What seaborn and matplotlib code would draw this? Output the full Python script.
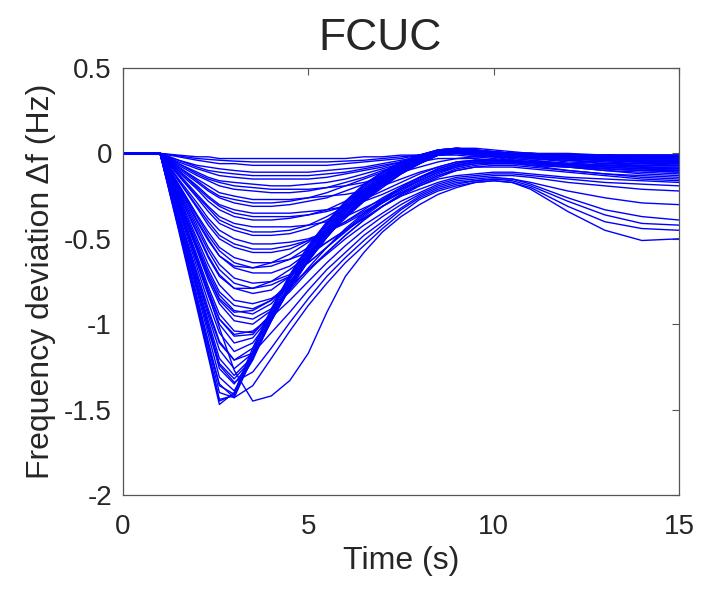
import numpy as np
import pandas as pd
import matplotlib
matplotlib.use("Agg")
import matplotlib.pyplot as plt
import seaborn as sns

# sample times (s) shared by every trace
t = [0, 1, 1.5, 2, 2.3, 2.6, 3, 3.5, 4, 4.5, 5, 5.5, 6, 6.5, 7, 7.5, 8,
     8.5, 9, 9.5, 10, 10.5, 11, 12, 13, 14, 15]

# deep dips, fast recovery
deep = [
    [0, 0, -0.45, -0.91, -1.19, -1.47, -1.40, -1.14, -0.91, -0.71, -0.54, -0.40, -0.28, -0.18, -0.11, -0.05, -0.01,
     0.02, 0.03, 0.02, 0.01, 0.00, 0.00, -0.01, -0.01, -0.02, -0.02],
    [0, 0, -0.44, -0.89, -1.17, -1.45, -1.41, -1.16, -0.92, -0.72, -0.55, -0.41, -0.29, -0.19, -0.11, -0.05, -0.01,
     0.02, 0.03, 0.02, 0.00, -0.01, -0.01, -0.02, -0.02, -0.03, -0.03],
    [0, 0, -0.43, -0.88, -1.16, -1.44, -1.42, -1.17, -0.93, -0.73, -0.56, -0.41, -0.29, -0.19, -0.11, -0.05, -0.01,
     0.01, 0.02, 0.01, -0.01, -0.02, -0.02, -0.03, -0.04, -0.05, -0.05],
    [0, 0, -0.42, -0.86, -1.13, -1.40, -1.43, -1.19, -0.95, -0.74, -0.57, -0.42, -0.30, -0.20, -0.12, -0.06, -0.02,
     0.00, 0.00, -0.01, -0.02, -0.03, -0.04, -0.06, -0.07, -0.08, -0.09],
    [0, 0, -0.41, -0.84, -1.10, -1.36, -1.41, -1.20, -0.96, -0.76, -0.58, -0.43, -0.31, -0.21, -0.13, -0.07, -0.03,
     -0.01, -0.01, -0.02, -0.03, -0.04, -0.06, -0.08, -0.10, -0.12, -0.13],
    [0, 0, -0.40, -0.81, -1.06, -1.31, -1.39, -1.21, -0.97, -0.77, -0.59, -0.44, -0.31, -0.21, -0.13, -0.06, -0.01,
     0.02, 0.03, 0.02, 0.00, -0.01, -0.01, -0.02, -0.03, -0.03, -0.03],
    [0, 0, -0.38, -0.78, -1.02, -1.26, -1.35, -1.20, -0.98, -0.78, -0.60, -0.45, -0.32, -0.22, -0.14, -0.08, -0.03,
     0.00, 0.01, 0.00, -0.01, -0.02, -0.03, -0.04, -0.06, -0.07, -0.07],
    [0, 0, -0.38, -0.77, -1.00, -1.23, -1.32, -1.20, -0.98, -0.78, -0.60, -0.45, -0.32, -0.22, -0.14, -0.08, -0.03,
     0.00, 0.01, 0.00, -0.01, -0.03, -0.04, -0.06, -0.08, -0.09, -0.10],
    [0, 0, -0.37, -0.75, -0.98, -1.20, -1.30, -1.19, -0.98, -0.79, -0.61, -0.46, -0.33, -0.23, -0.15, -0.09, -0.05,
     -0.03, -0.03, -0.03, -0.04, -0.05, -0.07, -0.10, -0.12, -0.14, -0.15],
    [0, 0, -0.36, -0.73, -0.95, -1.15, -1.26, -1.17, -0.98, -0.79, -0.62, -0.47, -0.34, -0.23, -0.15, -0.08, -0.03,
     0.00, 0.01, 0.00, -0.01, -0.02, -0.03, -0.05, -0.06, -0.06, -0.06],
    [0, 0, -0.35, -0.70, -0.91, -1.10, -1.21, -1.14, -0.97, -0.79, -0.62, -0.47, -0.34, -0.24, -0.16, -0.09, -0.04,
     -0.01, 0.00, -0.01, -0.02, -0.04, -0.05, -0.07, -0.09, -0.10, -0.11],
    [0, 0, -0.33, -0.67, -0.87, -1.05, -1.16, -1.11, -0.96, -0.79, -0.62, -0.48, -0.35, -0.24, -0.15, -0.07, -0.02,
     0.02, 0.03, 0.03, 0.02, 0.01, 0.00, 0.00, -0.01, -0.01, -0.01],
]

# slow recovery, several dip again after 10 s
slow = [
    [0, 0, -0.30, -0.62, -0.82, -1.02, -1.27, -1.45, -1.42, -1.33, -1.17, -0.93, -0.72, -0.58, -0.46, -0.37, -0.30,
     -0.24, -0.20, -0.17, -0.16, -0.17, -0.21, -0.34, -0.45, -0.51, -0.50],
    [0, 0, -0.42, -0.86, -1.12, -1.35, -1.43, -1.36, -1.20, -1.04, -0.89, -0.76, -0.64, -0.54, -0.44, -0.35, -0.27,
     -0.22, -0.19, -0.17, -0.16, -0.17, -0.20, -0.31, -0.40, -0.44, -0.45],
    [0, 0, -0.39, -0.79, -1.03, -1.24, -1.34, -1.28, -1.14, -0.99, -0.85, -0.72, -0.61, -0.51, -0.42, -0.33, -0.26,
     -0.21, -0.18, -0.16, -0.15, -0.16, -0.19, -0.28, -0.36, -0.41, -0.42],
    [0, 0, -0.36, -0.72, -0.93, -1.11, -1.21, -1.17, -1.05, -0.93, -0.80, -0.68, -0.58, -0.48, -0.40, -0.32, -0.25,
     -0.20, -0.17, -0.16, -0.15, -0.15, -0.18, -0.26, -0.33, -0.37, -0.39],
    [0, 0, -0.32, -0.64, -0.82, -0.97, -1.06, -1.04, -0.96, -0.86, -0.75, -0.64, -0.54, -0.45, -0.37, -0.30, -0.24,
     -0.19, -0.16, -0.15, -0.14, -0.15, -0.17, -0.22, -0.26, -0.29, -0.30],
    [0, 0, -0.28, -0.56, -0.72, -0.85, -0.93, -0.92, -0.86, -0.78, -0.68, -0.59, -0.50, -0.42, -0.35, -0.28, -0.23,
     -0.18, -0.15, -0.14, -0.13, -0.13, -0.14, -0.17, -0.19, -0.21, -0.22],
    [0, 0, -0.24, -0.47, -0.61, -0.72, -0.79, -0.79, -0.75, -0.68, -0.60, -0.52, -0.45, -0.38, -0.31, -0.25, -0.21,
     -0.17, -0.14, -0.13, -0.12, -0.12, -0.13, -0.15, -0.17, -0.18, -0.19],
    [0, 0, -0.20, -0.40, -0.51, -0.60, -0.66, -0.67, -0.64, -0.59, -0.52, -0.46, -0.40, -0.34, -0.28, -0.23, -0.19,
     -0.15, -0.13, -0.12, -0.11, -0.11, -0.12, -0.14, -0.15, -0.16, -0.17],
]

# moderate and shallow dips
mid = [
    [0, 0, -0.32, -0.64, -0.83, -1.00, -1.11, -1.08, -0.95, -0.79, -0.63, -0.49, -0.36, -0.25, -0.16, -0.09, -0.04,
     0.00, 0.02, 0.01, -0.01, -0.02, -0.02, -0.03, -0.04, -0.05, -0.05],
    [0, 0, -0.31, -0.62, -0.80, -0.97, -1.07, -1.06, -0.94, -0.79, -0.63, -0.49, -0.36, -0.25, -0.16, -0.09, -0.04,
     0.01, 0.02, 0.02, 0.00, -0.01, -0.02, -0.03, -0.04, -0.04, -0.04],
    [0, 0, -0.30, -0.60, -0.78, -0.94, -1.04, -1.05, -0.94, -0.79, -0.63, -0.49, -0.37, -0.26, -0.17, -0.10, -0.04,
     0.01, 0.02, 0.01, 0.00, -0.01, -0.01, -0.02, -0.03, -0.03, -0.03],
    [0, 0, -0.29, -0.57, -0.74, -0.88, -0.98, -1.00, -0.92, -0.80, -0.67, -0.55, -0.45, -0.36, -0.28, -0.21, -0.15,
     -0.10, -0.07, -0.05, -0.05, -0.05, -0.06, -0.07, -0.08, -0.09, -0.09],
    [0, 0, -0.28, -0.55, -0.72, -0.86, -0.95, -0.97, -0.91, -0.81, -0.69, -0.58, -0.48, -0.39, -0.31, -0.24, -0.18,
     -0.13, -0.10, -0.08, -0.08, -0.08, -0.09, -0.11, -0.13, -0.15, -0.16],
    [0, 0, -0.27, -0.54, -0.70, -0.83, -0.92, -0.94, -0.88, -0.76, -0.62, -0.49, -0.37, -0.26, -0.17, -0.10, -0.05,
     0.01, 0.03, 0.02, 0.01, 0.00, 0.00, -0.01, -0.01, -0.02, -0.02],
    [0, 0, -0.26, -0.52, -0.68, -0.81, -0.89, -0.91, -0.86, -0.75, -0.62, -0.49, -0.37, -0.27, -0.18, -0.11, -0.05,
     0.00, 0.02, 0.02, 0.01, 0.00, -0.01, -0.02, -0.03, -0.04, -0.04],
    [0, 0, -0.25, -0.50, -0.65, -0.77, -0.86, -0.88, -0.85, -0.78, -0.68, -0.58, -0.48, -0.39, -0.31, -0.24, -0.18,
     -0.13, -0.09, -0.07, -0.06, -0.06, -0.07, -0.08, -0.10, -0.11, -0.12],
    [0, 0, -0.23, -0.46, -0.60, -0.71, -0.79, -0.82, -0.80, -0.72, -0.60, -0.48, -0.37, -0.27, -0.18, -0.11, -0.05,
     0.00, 0.02, 0.01, -0.01, -0.02, -0.02, -0.03, -0.04, -0.05, -0.05],
    [0, 0, -0.22, -0.44, -0.57, -0.68, -0.76, -0.79, -0.77, -0.72, -0.64, -0.55, -0.46, -0.37, -0.29, -0.22, -0.16,
     -0.11, -0.07, -0.05, -0.04, -0.05, -0.06, -0.07, -0.09, -0.10, -0.10],
    [0, 0, -0.21, -0.42, -0.55, -0.65, -0.73, -0.76, -0.75, -0.71, -0.64, -0.55, -0.44, -0.35, -0.27, -0.20, -0.14,
     -0.09, -0.06, -0.04, -0.04, -0.04, -0.05, -0.06, -0.07, -0.08, -0.08],
    [0, 0, -0.19, -0.39, -0.50, -0.60, -0.67, -0.70, -0.70, -0.66, -0.58, -0.48, -0.38, -0.28, -0.19, -0.12, -0.06,
     -0.01, 0.01, 0.01, 0.00, -0.01, -0.01, -0.02, -0.03, -0.03, -0.03],
    [0, 0, -0.19, -0.37, -0.48, -0.57, -0.64, -0.67, -0.66, -0.62, -0.55, -0.46, -0.37, -0.28, -0.19, -0.12, -0.06,
     -0.01, 0.01, 0.01, 0.00, -0.01, -0.02, -0.03, -0.04, -0.04, -0.04],
    [0, 0, -0.18, -0.36, -0.46, -0.55, -0.61, -0.64, -0.64, -0.62, -0.58, -0.52, -0.45, -0.38, -0.31, -0.25, -0.19,
     -0.14, -0.10, -0.08, -0.07, -0.07, -0.08, -0.10, -0.12, -0.13, -0.14],
    [0, 0, -0.16, -0.32, -0.42, -0.50, -0.55, -0.58, -0.58, -0.56, -0.51, -0.45, -0.37, -0.28, -0.20, -0.12, -0.06,
     -0.01, 0.01, 0.01, 0.00, 0.00, 0.00, -0.01, -0.01, -0.02, -0.02],
    [0, 0, -0.16, -0.31, -0.40, -0.48, -0.53, -0.56, -0.56, -0.54, -0.51, -0.46, -0.40, -0.33, -0.26, -0.20, -0.14,
     -0.09, -0.06, -0.04, -0.04, -0.04, -0.05, -0.06, -0.07, -0.08, -0.08],
    [0, 0, -0.15, -0.29, -0.38, -0.45, -0.50, -0.53, -0.53, -0.52, -0.50, -0.46, -0.41, -0.35, -0.29, -0.23, -0.17,
     -0.12, -0.08, -0.06, -0.05, -0.05, -0.05, -0.06, -0.07, -0.07, -0.07],
    [0, 0, -0.13, -0.26, -0.34, -0.41, -0.45, -0.48, -0.48, -0.47, -0.44, -0.39, -0.33, -0.26, -0.18, -0.11, -0.06,
     -0.01, 0.01, 0.01, -0.01, -0.02, -0.02, -0.03, -0.04, -0.05, -0.05],
    [0, 0, -0.13, -0.25, -0.32, -0.39, -0.43, -0.46, -0.46, -0.45, -0.42, -0.37, -0.31, -0.24, -0.17, -0.10, -0.05,
     0.00, 0.02, 0.01, 0.00, -0.01, -0.01, -0.02, -0.02, -0.03, -0.03],
    [0, 0, -0.12, -0.24, -0.31, -0.37, -0.41, -0.43, -0.43, -0.43, -0.42, -0.40, -0.37, -0.32, -0.27, -0.21, -0.16,
     -0.11, -0.08, -0.06, -0.06, -0.06, -0.07, -0.08, -0.09, -0.10, -0.11],
    [0, 0, -0.11, -0.21, -0.28, -0.33, -0.37, -0.39, -0.39, -0.38, -0.36, -0.33, -0.28, -0.22, -0.16, -0.10, -0.05,
     -0.01, 0.01, 0.01, 0.00, -0.01, -0.01, -0.02, -0.03, -0.03, -0.03],
    [0, 0, -0.10, -0.20, -0.26, -0.31, -0.35, -0.37, -0.37, -0.37, -0.36, -0.34, -0.31, -0.27, -0.22, -0.17, -0.12,
     -0.08, -0.05, -0.04, -0.04, -0.05, -0.05, -0.07, -0.08, -0.09, -0.10],
    [0, 0, -0.10, -0.19, -0.25, -0.30, -0.33, -0.35, -0.35, -0.35, -0.34, -0.33, -0.31, -0.28, -0.24, -0.19, -0.14,
     -0.10, -0.07, -0.05, -0.05, -0.05, -0.05, -0.06, -0.07, -0.07, -0.07],
    [0, 0, -0.09, -0.17, -0.22, -0.26, -0.29, -0.31, -0.31, -0.30, -0.28, -0.26, -0.22, -0.18, -0.13, -0.08, -0.04,
     0.00, 0.01, 0.01, 0.00, -0.01, -0.01, -0.01, -0.02, -0.02, -0.02],
    [0, 0, -0.08, -0.16, -0.21, -0.25, -0.27, -0.29, -0.29, -0.28, -0.26, -0.23, -0.19, -0.15, -0.11, -0.07, -0.03,
     0.00, 0.01, 0.01, 0.00, -0.01, -0.02, -0.03, -0.04, -0.05, -0.05],
    [0, 0, -0.08, -0.15, -0.19, -0.23, -0.25, -0.27, -0.27, -0.27, -0.26, -0.25, -0.24, -0.22, -0.19, -0.15, -0.11,
     -0.08, -0.05, -0.04, -0.04, -0.04, -0.05, -0.06, -0.07, -0.08, -0.09],
    [0, 0, -0.07, -0.13, -0.16, -0.19, -0.21, -0.22, -0.23, -0.23, -0.22, -0.20, -0.17, -0.14, -0.10, -0.07, -0.03,
     0.00, 0.01, 0.01, 0.00, 0.00, -0.01, -0.01, -0.02, -0.02, -0.02],
    [0, 0, -0.06, -0.12, -0.15, -0.17, -0.19, -0.20, -0.21, -0.21, -0.21, -0.20, -0.19, -0.17, -0.14, -0.11, -0.08,
     -0.05, -0.03, -0.02, -0.02, -0.02, -0.03, -0.04, -0.05, -0.05, -0.06],
    [0, 0, -0.06, -0.11, -0.14, -0.16, -0.17, -0.18, -0.19, -0.19, -0.18, -0.17, -0.15, -0.12, -0.09, -0.06, -0.03,
     -0.01, 0.00, -0.01, -0.01, -0.02, -0.03, -0.04, -0.05, -0.06, -0.07],
    [0, 0, -0.05, -0.09, -0.11, -0.13, -0.14, -0.15, -0.15, -0.15, -0.15, -0.14, -0.12, -0.10, -0.08, -0.05, -0.03,
     0.00, 0.01, 0.00, 0.00, -0.01, -0.01, -0.02, -0.03, -0.03, -0.03],
    [0, 0, -0.04, -0.08, -0.10, -0.11, -0.12, -0.13, -0.13, -0.13, -0.13, -0.12, -0.11, -0.09, -0.07, -0.05, -0.03,
     -0.01, 0.00, 0.00, -0.01, -0.02, -0.02, -0.03, -0.04, -0.04, -0.05],
    [0, 0, -0.04, -0.07, -0.08, -0.09, -0.10, -0.11, -0.11, -0.11, -0.11, -0.10, -0.09, -0.08, -0.06, -0.04, -0.02,
     0.00, 0.01, 0.01, 0.00, 0.00, -0.01, -0.01, -0.02, -0.02, -0.02],
    [0, 0, -0.02, -0.04, -0.05, -0.06, -0.06, -0.07, -0.07, -0.07, -0.07, -0.07, -0.06, -0.05, -0.04, -0.03, -0.01,
     0.01, 0.02, 0.01, 0.01, 0.00, 0.00, -0.01, -0.01, -0.01, -0.01],
    [0, 0, -0.015, -0.03, -0.035, -0.04, -0.045, -0.05, -0.05, -0.05, -0.05, -0.05, -0.045, -0.04, -0.03, -0.02, -0.01,
     0.01, 0.02, 0.01, 0.01, 0.00, 0.00, -0.01, -0.01, -0.01, -0.01],
    [0, 0, -0.01, -0.02, -0.02, -0.03, -0.03, -0.03, -0.03, -0.03, -0.03, -0.03, -0.03, -0.02, -0.02, -0.01, -0.01,
     0.00, 0.01, 0.01, 0.00, 0.00, -0.01, -0.01, -0.01, -0.02, -0.02],
]

rows = []
for k, curve in enumerate(deep + slow + mid):
    for ti, v in zip(t, curve):
        rows.append({"curve": k, "time": ti, "df": v})
df = pd.DataFrame(rows)

sns.set_style("white")
plt.rcParams['font.family'] = ['Liberation Sans', 'DejaVu Sans']
txt = '#262626'

fig = plt.figure(figsize=(7.04, 5.90), dpi=100)
ax = fig.add_axes([123 / 704, 1 - 495 / 590, (679 - 123) / 704, (495 - 68) / 590])

sns.lineplot(data=df, x="time", y="df", units="curve", estimator=None,
             color=(0, 0, 1), linewidth=1.0, ax=ax, legend=False)

ax.set_xlim(0, 15)
ax.set_ylim(-2, 0.5)
ax.set_xticks([0, 5, 10, 15])
ax.set_yticks([-2, -1.5, -1, -0.5, 0, 0.5])
ax.set_yticklabels(['-2', '-1.5', '-1', '-0.5', '0', '0.5'])
ax.tick_params(direction='in', length=5, width=0.8, top=True, right=True,
               labelsize=20, colors='#555555', labelcolor=txt)
ax.tick_params(axis='y', pad=8)
ax.tick_params(axis='x', pad=14)
for s in ax.spines.values():
    s.set_color('#555555')
    s.set_linewidth(0.9)

fig.text(380 / 704, 1 - 50 / 590, "FCUC", fontsize=32, color=txt,
         ha='center', va='baseline')
ax.set_xlabel("Time (s)", fontsize=23, color=txt, labelpad=4)
ax.set_ylabel("Frequency deviation \u0394f (Hz)", fontsize=23, color=txt, labelpad=6)

fig.savefig("out.png", dpi=100)
